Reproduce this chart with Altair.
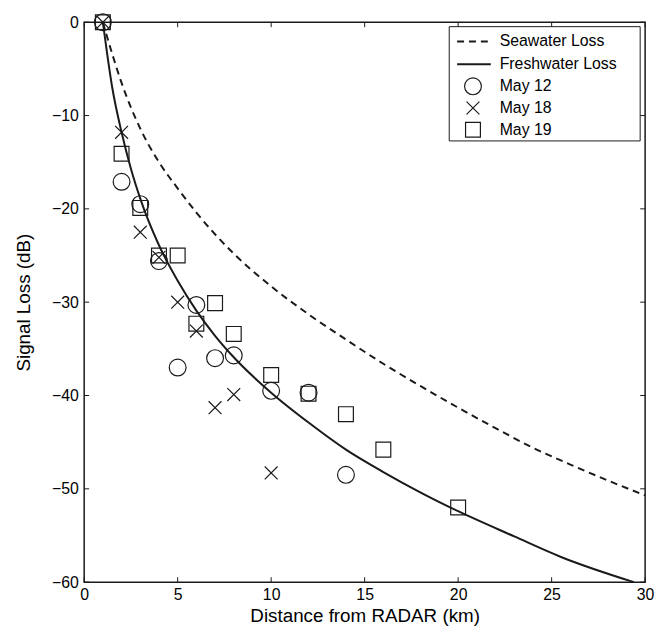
import altair as alt
import pandas as pd

# ---- data ----
sea_x = [1, 1.5, 2, 3, 4, 5, 6, 8, 10, 12, 14, 16, 18, 20, 22, 24, 26, 28, 30]
sea_y = [0, -3.4, -6.5, -11.4, -15.0, -17.8, -20.4, -24.8, -28.3, -31.3, -34.0,
         -36.6, -39.0, -41.3, -43.5, -45.6, -47.4, -49.1, -50.7]

fresh_x = [1, 1.5, 2, 2.5, 3, 4, 5, 6, 7, 8, 10, 12, 14, 16, 18, 20, 23, 25.5, 29.4]
fresh_y = [0, -7.0, -11.8, -15.7, -18.9, -23.9, -27.7, -30.9, -33.6, -35.9, -39.7,
           -42.9, -45.8, -48.2, -50.4, -52.4, -55.1, -57.3, -60.0]

may12_x = [1, 2, 3, 4, 5, 6, 7, 8, 10, 12, 14]
may12_y = [0, -17.1, -19.5, -25.6, -37.0, -30.3, -36.0, -35.7, -39.5, -39.7, -48.5]

may18_x = [1, 2, 3, 4, 5, 6, 7, 8, 10]
may18_y = [0, -11.8, -22.5, -25.2, -30.0, -33.1, -41.3, -39.9, -48.3]

may19_x = [1, 2, 3, 4, 5, 6, 7, 8, 10, 12, 14, 16, 20]
may19_y = [0, -14.1, -19.9, -25.0, -25.0, -32.3, -30.1, -33.4, -37.8, -39.8, -42.0, -45.8, -52.0]

x_ticks = [0, 5, 10, 15, 20, 25, 30]
y_ticks = [0, -10, -20, -30, -40, -50, -60]

legend_labels = ["Seawater Loss", "Freshwater Loss", "May 12", "May 18", "May 19"]

# ---- layout / style ----
W, H = 567, 566
FONT = "Liberation Sans"
INK = "#1a1a1a"
XPATH = "M-1,-1L1,1M1,-1L-1,1"

xs = alt.Scale(domain=[0, 30], nice=False, zero=False)
ys = alt.Scale(domain=[-60, 0], nice=False, zero=False)

x_axis = alt.Axis(values=x_ticks, domain=False, ticks=False, grid=False,
                  labelFontSize=16, labelPadding=5, labelFlush=False,
                  labelColor="black", labelFont=FONT,
                  titleFont=FONT, titleFontSize=19, titleFontWeight="normal",
                  titleColor="black", titleY=40, titleBaseline="alphabetic")
y_axis = alt.Axis(values=y_ticks, domain=False, ticks=False, grid=False,
                  labelFontSize=16, labelPadding=6, labelFlush=False,
                  labelColor="black", labelFont=FONT,
                  titleFont=FONT, titleFontSize=19, titleFontWeight="normal",
                  titleColor="black", titleX=-61, titleY=H / 2,
                  titleBaseline="middle", titleAlign="center")

X = alt.X("x:Q", scale=xs, axis=x_axis, title="Distance from RADAR (km)")
Y = alt.Y("y:Q", scale=ys, axis=y_axis, title="Signal Loss (dB)")

sea = pd.DataFrame({"x": sea_x, "y": sea_y})
fresh = pd.DataFrame({"x": fresh_x, "y": fresh_y})
d12 = pd.DataFrame({"x": may12_x, "y": may12_y})
d18 = pd.DataFrame({"x": may18_x, "y": may18_y})
d19 = pd.DataFrame({"x": may19_x, "y": may19_y})

sea_line = alt.Chart(sea).mark_line(color=INK, strokeWidth=2, strokeDash=[7, 5],
                                    interpolate="monotone").encode(x=X, y=Y)
fresh_line = alt.Chart(fresh).mark_line(color=INK, strokeWidth=2,
                                        interpolate="monotone").encode(x=X, y=Y)

pt12 = alt.Chart(d12).mark_point(shape="circle", size=289, filled=False,
                                 stroke=INK, strokeWidth=1.2, opacity=1).encode(x=X, y=Y)
pt18 = alt.Chart(d18).mark_point(shape=XPATH, size=169, filled=False,
                                 stroke=INK, strokeWidth=1.2, opacity=1).encode(x=X, y=Y)
pt19 = alt.Chart(d19).mark_point(shape="square", size=225, filled=False,
                                 stroke=INK, strokeWidth=1.2, opacity=1).encode(x=X, y=Y)

# inward ticks on all four sides
xt = pd.DataFrame({"x": x_ticks})
yt = pd.DataFrame({"y": y_ticks})
tick_bottom = alt.Chart(xt).mark_rule(color=INK, strokeWidth=1).encode(
    x=X, y=alt.value(H), y2=alt.value(H - 5))
tick_top = alt.Chart(xt).mark_rule(color=INK, strokeWidth=1).encode(
    x=X, y=alt.value(0), y2=alt.value(5))
tick_left = alt.Chart(yt).mark_rule(color=INK, strokeWidth=1).encode(
    y=Y, x=alt.value(0), x2=alt.value(5))
tick_right = alt.Chart(yt).mark_rule(color=INK, strokeWidth=1).encode(
    y=Y, x=alt.value(W), x2=alt.value(W - 5))

# legend (drawn manually inside the plot area)
one = pd.DataFrame({"a": [0]})
leg_y = [19.5, 42.5, 64.8, 86.7, 108.7]
LX0, LX1 = 369, 562
box = alt.Chart(one).mark_rect(fill="white", stroke=INK, strokeWidth=1).encode(
    x=alt.value(LX0), x2=alt.value(LX1), y=alt.value(4.5), y2=alt.value(120))

leg_layers = [box]
leg_layers.append(alt.Chart(one).mark_rule(color=INK, strokeWidth=2, strokeDash=[7, 5]).encode(
    x=alt.value(377), x2=alt.value(411), y=alt.value(leg_y[0])))
leg_layers.append(alt.Chart(one).mark_rule(color=INK, strokeWidth=2).encode(
    x=alt.value(377), x2=alt.value(411), y=alt.value(leg_y[1])))
for shp, sz, yy in [("circle", 289, leg_y[2]), (XPATH, 169, leg_y[3]), ("square", 225, leg_y[4])]:
    leg_layers.append(alt.Chart(one).mark_point(shape=shp, size=sz, filled=False, stroke=INK,
                                                strokeWidth=1.2, opacity=1).encode(
        x=alt.value(393), y=alt.value(yy)))
for lab, yy in zip(legend_labels, leg_y):
    leg_layers.append(alt.Chart(one).mark_text(align="left", baseline="middle", font=FONT,
                                               fontSize=16, color="black").encode(
        x=alt.value(420), y=alt.value(yy), text=alt.value(lab)))

chart = alt.layer(
    sea_line, fresh_line, pt12, pt18, pt19,
    tick_bottom, tick_top, tick_left, tick_right,
    *leg_layers
).properties(
    width=W, height=H,
    padding={"left": 77, "top": 11, "right": 11, "bottom": 45},
    autosize=alt.AutoSizeParams(type="none"),
    background="white",
).configure_view(stroke=INK, strokeWidth=1.5)

chart.save("out.html", embed_options={"renderer": "svg", "actions": False})
